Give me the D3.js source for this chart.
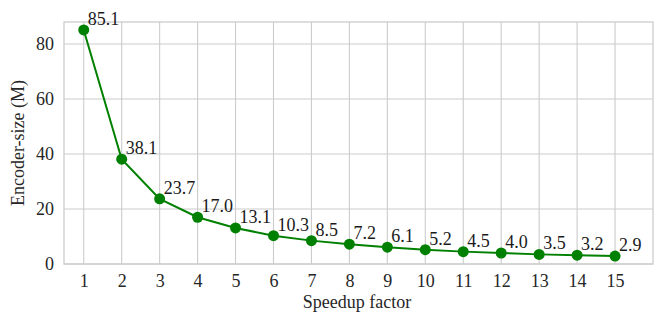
<!DOCTYPE html>
<html>
<head>
<meta charset="utf-8">
<script src="https://cdn.jsdelivr.net/npm/d3@7"></script>
<style>
  body { margin: 0; background: #fff; }
  svg { display: block; font-family: "Liberation Serif", "DejaVu Serif", serif; }
</style>
</head>
<body>
<svg></svg>
<script>
const speedups = [1, 2, 3, 4, 5, 6, 7, 8, 9, 10, 11, 12, 13, 14, 15];
const encoderSize = [85.1, 38.1, 23.7, 17.0, 13.1, 10.3, 8.5, 7.2, 6.1, 5.2, 4.5, 4.0, 3.5, 3.2, 2.9];
const yTicks = [0, 20, 40, 60, 80];

const width = 664, height = 327;
const margin = { left: 64, right: 11, top: 22, bottom: 63 };

const svg = d3.select('svg')
    .attr('width', width)
    .attr('height', height);

const x = d3.scaleLinear()
    .domain([0.48, 16])
    .range([margin.left, width - margin.right]);

const y = d3.scaleLinear()
    .domain([0, 88])
    .range([height - margin.bottom, margin.top]);

const grid = '#cccccc';

// gridlines
svg.append('g')
  .selectAll('line.v')
  .data(speedups)
  .join('line')
    .attr('x1', d => x(d)).attr('x2', d => x(d))
    .attr('y1', y(88)).attr('y2', y(0))
    .attr('stroke', grid).attr('stroke-width', 1.1);

svg.append('g')
  .selectAll('line.h')
  .data(yTicks)
  .join('line')
    .attr('x1', x(0.48)).attr('x2', x(16))
    .attr('y1', d => y(d)).attr('y2', d => y(d))
    .attr('stroke', grid).attr('stroke-width', 1.1);

// frame
svg.append('rect')
    .attr('x', x(0.48)).attr('y', y(88))
    .attr('width', x(16) - x(0.48))
    .attr('height', y(0) - y(88))
    .attr('fill', 'none')
    .attr('stroke', grid)
    .attr('stroke-width', 1.3);

// axes
const xAxis = svg.append('g')
    .attr('transform', `translate(0,${y(0)})`)
    .call(d3.axisBottom(x).tickValues(speedups).tickSize(0).tickPadding(10).tickFormat(d3.format('d')));
const yAxis = svg.append('g')
    .attr('transform', `translate(${x(0.48)},0)`)
    .call(d3.axisLeft(y).tickValues(yTicks).tickSize(0).tickPadding(10));

[xAxis, yAxis].forEach(a => {
  a.select('.domain').remove();
  a.selectAll('text')
    .attr('font-family', '"Liberation Serif", serif')
    .attr('font-size', 18)
    .attr('fill', '#262626');
});

// axis labels
svg.append('text')
    .attr('x', x(8.2)).attr('y', 308)
    .attr('text-anchor', 'middle')
    .attr('font-size', 18)
    .attr('fill', '#262626')
    .text('Speedup factor');

svg.append('text')
    .attr('transform', `translate(24,${(y(0) + y(88)) / 2}) rotate(-90)`)
    .attr('text-anchor', 'middle')
    .attr('font-size', 18)
    .attr('fill', '#262626')
    .text('Encoder-size (M)');

// line
const line = d3.line()
    .x((d, i) => x(speedups[i]))
    .y(d => y(d));

svg.append('path')
    .datum(encoderSize)
    .attr('d', line)
    .attr('fill', 'none')
    .attr('stroke', 'green')
    .attr('stroke-width', 2);

svg.append('g')
  .selectAll('circle')
  .data(encoderSize)
  .join('circle')
    .attr('cx', (d, i) => x(speedups[i]))
    .attr('cy', d => y(d))
    .attr('r', 5.5)
    .attr('fill', 'green');

svg.append('g')
  .selectAll('text')
  .data(encoderSize)
  .join('text')
    .attr('x', (d, i) => x(speedups[i]) + 4)
    .attr('y', d => y(d) - 5)
    .attr('font-size', 18)
    .attr('fill', '#1a1a1a')
    .text(d => d.toFixed(1));
</script>
</body>
</html>
